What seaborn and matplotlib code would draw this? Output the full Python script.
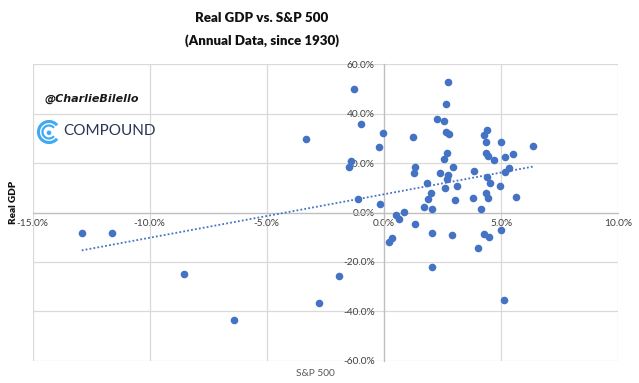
import numpy as np
import pandas as pd
import matplotlib
matplotlib.use("Agg")
import matplotlib.pyplot as plt
from matplotlib.patches import Arc, Circle
import seaborn as sns

# ---- data (percent) ----
x_vals = [-3.31, -1.28, -0.96, -0.04, -0.23, -1.49, -1.40, -1.11, -0.15,
          1.24, 1.31, 1.27, 1.83, 1.99, 1.88, 1.69, 2.03,
          2.26, 2.58, 2.73, 2.63, 2.63, 2.77, 2.69, 2.56, 2.96, 2.38, 2.73, 2.70, 2.62,
          3.11, 3.03, 3.84, 3.80, 4.16,
          4.27, 4.38, 4.34, 4.34, 4.45, 4.68, 4.38, 4.54, 4.34, 4.45,
          4.95, 4.99, 5.18, 5.15, 5.33, 5.50, 5.65, 6.37,
          0.84, 0.53, 0.64, 1.31, 2.06, 2.89, 4.27, 4.48, 4.98, 4.03, 0.20, 0.34,
          2.03, 5.12,
          -12.90, -11.59, -8.53, -6.40, -2.77, -1.92]
y_vals = [29.6, 50.2, 36.0, 32.0, 26.6, 18.5, 21.0, 5.5, 3.6,
          30.6, 18.5, 16.0, 12.0, 7.7, 5.5, 2.3, 1.5,
          37.9, 37.1, 52.8, 44.1, 32.5, 31.7, 23.9, 21.7, 18.5, 16.0, 15.2, 13.7, 10.1,
          10.8, 5.0, 16.7, 5.8, 1.3,
          31.3, 33.3, 28.7, 24.1, 22.8, 21.2, 14.2, 12.0, 7.7, 5.8,
          10.9, 28.7, 22.5, 16.3, 18.2, 23.6, 6.1, 26.8,
          0.25, -1.1, -2.8, -4.7, -8.1, -9.2, -8.8, -9.9, -7.2, -14.2, -11.9, -10.4,
          -21.9, -35.4,
          -8.5, -8.5, -25.1, -43.7, -36.8, -25.9]
x_ticks = [-15, -10, -5, 0, 5, 10]
y_ticks = [-60, -40, -20, 0, 20, 40, 60]
title_lines = ["Real GDP vs. S&P 500", "(Annual Data, since 1930)"]
x_label = "S&P 500"
y_label = "Real GDP"

df = pd.DataFrame({"x": x_vals, "y": y_vals})

sns.set_theme(style="white")
plt.rcParams["font.family"] = ["Lato", "DejaVu Sans"]

W, H = 639, 383
fig = plt.figure(figsize=(W / 100, H / 100), dpi=100)
left, right, top, bottom = 32.5, 618.3, 64.3, 360.7
ax = fig.add_axes([left / W, 1 - bottom / H, (right - left) / W, (bottom - top) / H])

blue = "#4472C4"
sns.regplot(data=df, x="x", y="y", ax=ax, ci=None,
            scatter_kws=dict(s=30, color=blue, linewidths=0, alpha=1, zorder=3),
            line_kws=dict(color=blue, linestyle=(0, (1, 1.2)), linewidth=1.3, zorder=2))

ax.set_xlim(-15, 10)
ax.set_ylim(-60, 60)
ax.set_xticks(x_ticks)
ax.set_yticks(y_ticks)
ax.set_xticklabels([f"{v:.1f}%" for v in x_ticks])
ax.set_yticklabels([f"{v:.1f}%" for v in y_ticks])
ax.set_xlabel("")
ax.set_ylabel("")

ax.grid(True, color="#d9d9d9", linewidth=0.9)
for ln in ax.get_xgridlines() + ax.get_ygridlines():
    ln.set_clip_on(False)
ax.set_axisbelow(True)

for s in ["top", "right"]:
    ax.spines[s].set_visible(False)
ax.spines["left"].set_position(("data", 0))
ax.spines["bottom"].set_position(("data", 0))
for s in ["left", "bottom"]:
    ax.spines[s].set_color("#bfbfbf")
    ax.spines[s].set_linewidth(0.9)
    ax.spines[s].set_zorder(1)

ax.tick_params(axis="both", length=0, labelsize=7.3, labelcolor="#404040")
ax.tick_params(axis="y", pad=6.5)
ax.tick_params(axis="x", pad=5)
for lab in ax.get_xticklabels() + ax.get_yticklabels():
    lab.set_zorder(4)

# titles
fig.text(262 / W, 1 - 18 / H, title_lines[0], ha="center", va="center",
         fontsize=9.6, fontweight="heavy", color="#111111")
fig.text(262 / W, 1 - 41 / H, title_lines[1], ha="center", va="center",
         fontsize=9.6, fontweight="heavy", color="#111111")

# axis titles
fig.text(14 / W, 1 - 202 / H, y_label, rotation=90, ha="center", va="center",
         fontsize=7.2, fontweight="heavy", color="#111111")
fig.text(315 / W, 1 - 374 / H, x_label, ha="center", va="center",
         fontsize=7.3, color="#595959")

# watermark
fig.text(92 / W, 1 - 99 / H, "@CharlieBilello", ha="center", va="center",
         fontsize=8, fontweight="bold", fontstyle="italic",
         family=["DejaVu Sans"], color="#1a1a1a")
fig.text(63 / W, 1 - 131 / H, "COMPOUND", ha="left", va="center",
         fontsize=11, color="#2b3553")

# logo icon
lax = fig.add_axes([36 / W, 1 - 145 / H, 26 / W, 26 / H])
lax.set_xlim(-13, 13)
lax.set_ylim(-13, 13)
lax.set_aspect("equal")
lax.axis("off")
lcol = "#3fa9f5"
lax.add_patch(Arc((0, 0), 21, 21, theta1=40, theta2=320, color=lcol, linewidth=2.2))
lax.add_patch(Arc((0, 0), 13, 13, theta1=40, theta2=320, color=lcol, linewidth=1.6))
lax.add_patch(Circle((0, -0.8), 1.6, color=lcol))

fig.savefig("out.png", dpi=100)
